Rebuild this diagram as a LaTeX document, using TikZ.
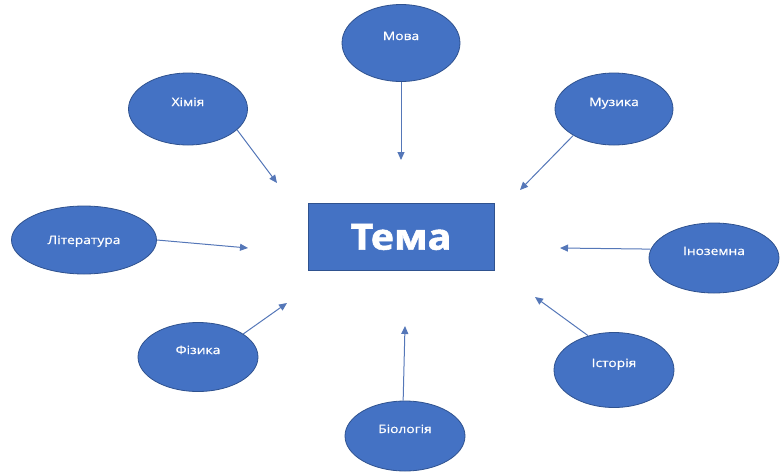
\documentclass[tikz,border=0pt]{standalone}
\usepackage{fontspec}
\setmainfont{Open Sans}[FakeStretch=1.15]
\newfontfamily\topicfont{Open Sans}[FakeStretch=1.2,FakeBold=0.7]
\newfontfamily\themefont{Open Sans Bold}[FakeStretch=1.1,FakeBold=1.5]
\usetikzlibrary{shapes.geometric,arrows.meta}
\definecolor{topicblue}{HTML}{4472C4}
\definecolor{topicedge}{HTML}{2F528F}
\definecolor{linkblue}{HTML}{5577B8}

\begin{document}
\begin{tikzpicture}[x=1pt,y=-1pt,
  topic/.style={ellipse,draw=topicedge,line width=0.8pt,fill=topicblue,text=white,
    font=\topicfont\fontsize{11.5}{13}\selectfont,inner sep=0pt,text height=8pt,text depth=14pt},
  link/.style={draw=linkblue,line width=1pt,-{Triangle[length=8pt,width=7pt]}}]
\useasboundingbox (0,0) rectangle (780,472);
    \node[rectangle,draw=topicedge,line width=0.8pt,fill=topicblue,text=white,
      minimum width=186pt,minimum height=67pt,
      font=\themefont\fontsize{36}{40}\selectfont] (tema) at (401,237) {Тема};
    \node[topic,minimum width=118pt,minimum height=77pt] (mova) at (401,43) {Мова};
    \node[topic,minimum width=118pt,minimum height=72pt] (muzyka) at (614,109) {Музика};
    \node[topic,minimum width=119pt,minimum height=72pt] (khimiia) at (188,109) {Хімія};
    \node[topic,minimum width=145pt,minimum height=68pt,text depth=0pt] (literatura) at (84,240) {Література};
    \node[topic,minimum width=130pt,minimum height=70pt] (inozemna) at (714,258) {Іноземна};
    \node[topic,minimum width=120pt,minimum height=69pt] (fizyka) at (198,357) {Фізика};
    \node[topic,minimum width=120pt,minimum height=75pt] (istoriia) at (614,370) {Історія};
    \node[topic,minimum width=120pt,minimum height=70pt] (biolohiia) at (405,436) {Біологія};
    % free ends of the arrows
    \coordinate (to-mova) at (401,160);
    \coordinate (to-muzyka) at (520,190);
    \coordinate (to-khimiia) at (277,183);
    \coordinate (to-literatura) at (248,248);
    \coordinate (to-inozemna) at (560,248);
    \coordinate (to-fizyka) at (287,303);
    \coordinate (to-istoriia) at (535,297);
    \coordinate (to-biolohiia) at (405,326);
    \draw[link] (mova.south) -- (to-mova);
    \draw[link] (muzyka.-147) -- (to-muzyka);
    \draw[link] (khimiia.-23) -- (to-khimiia);
    \draw[link] (literatura.east) -- (to-literatura);
    \draw[link] (inozemna.172) -- (to-inozemna);
    \draw[link] (fizyka.27) -- (to-fizyka);
    \draw[link] (istoriia.127) -- (to-istoriia);
    \draw[link] (biolohiia.93) -- (to-biolohiia);
\end{tikzpicture}
\end{document}
